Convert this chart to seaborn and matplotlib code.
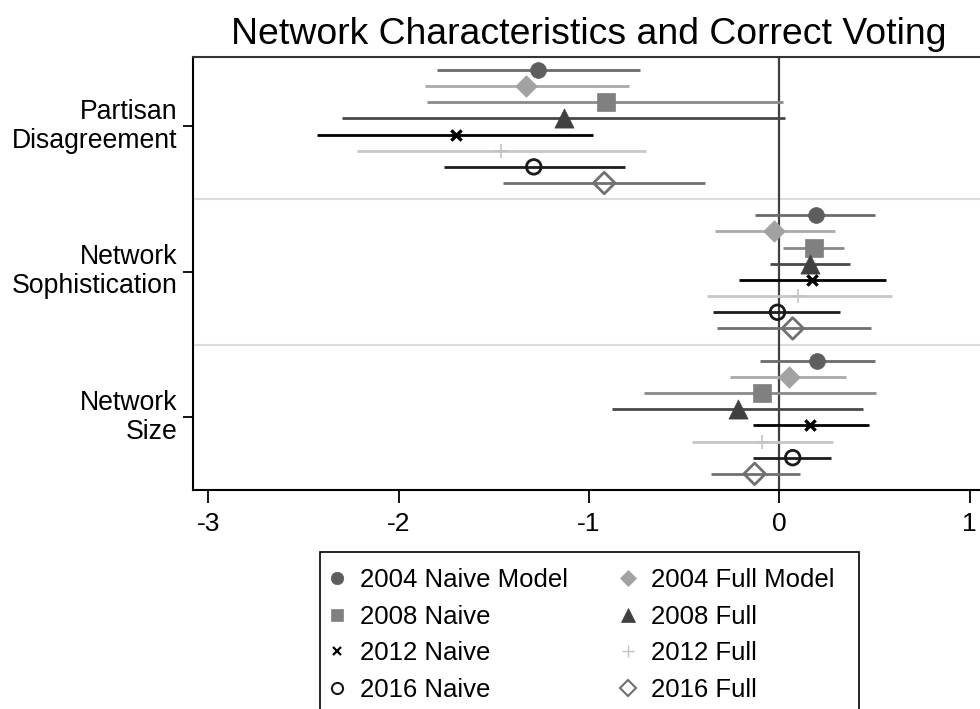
import numpy as np
import pandas as pd
import matplotlib
matplotlib.use("Agg")
import matplotlib.pyplot as plt
from matplotlib.lines import Line2D
from matplotlib.patches import Rectangle
import seaborn as sns

# ---- data -------------------------------------------------------------
variables = ["Partisan\nDisagreement", "Network\nSophistication", "Network\nSize"]
models = ["2004 Naive Model", "2004 Full Model", "2008 Naive", "2008 Full",
          "2012 Naive", "2012 Full", "2016 Naive", "2016 Full"]

partisan_est = [-1.27, -1.33, -0.91, -1.13, -1.70, -1.46, -1.29, -0.92]
partisan_lo = [-1.80, -1.86, -1.85, -2.30, -2.43, -2.22, -1.76, -1.45]
partisan_hi = [-0.73, -0.79, 0.02, 0.03, -0.98, -0.70, -0.81, -0.39]

soph_est = [0.19, -0.03, 0.18, 0.16, 0.17, 0.10, -0.01, 0.07]
soph_lo = [-0.13, -0.34, 0.02, -0.05, -0.21, -0.38, -0.35, -0.33]
soph_hi = [0.50, 0.29, 0.34, 0.37, 0.56, 0.59, 0.32, 0.48]

size_est = [0.20, 0.05, -0.09, -0.22, 0.16, -0.09, 0.07, -0.13]
size_lo = [-0.10, -0.26, -0.71, -0.88, -0.14, -0.46, -0.14, -0.36]
size_hi = [0.50, 0.35, 0.51, 0.44, 0.47, 0.28, 0.27, 0.11]

xticks = [-3, -2, -1, 0, 1]

# ---- styles -----------------------------------------------------------
styles = {
    "2004 Naive Model": dict(marker="o", face="#5e5e5e", edge="#5e5e5e", line="#6a6a6a", s=130, lw=0.5, lsize=9),
    "2004 Full Model": dict(marker="D", face="#a2a2a2", edge="#a2a2a2", line="#aaaaaa", s=120, lw=0.5, lsize=8.5),
    "2008 Naive": dict(marker="s", face="#808080", edge="#808080", line="#8a8a8a", s=150, lw=0.5, lsize=9),
    "2008 Full": dict(marker="^", face="#404040", edge="#404040", line="#484848", s=190, lw=0.5, lsize=10),
    "2012 Naive": dict(marker="x", face="#000000", edge="#000000", line="#000000", s=55, lw=2.4, lsize=6),
    "2012 Full": dict(marker="+", face="#c2c2c2", edge="#c2c2c2", line="#c6c6c6", s=110, lw=1.2, lsize=9),
    "2016 Naive": dict(marker="o", face="none", edge="#1a1a1a", line="#1e1e1e", s=110, lw=2.0, lsize=8),
    "2016 Full": dict(marker="D", face="none", edge="#707070", line="#707070", s=120, lw=2.0, lsize=8.5),
}

rows = []
for g, (est, lo, hi) in enumerate([(partisan_est, partisan_lo, partisan_hi),
                                     (soph_est, soph_lo, soph_hi),
                                     (size_est, size_lo, size_hi)]):
    for j, m in enumerate(models):
        rows.append(dict(variable=variables[g], model=m, pos=g * 9 + j,
                         est=est[j], lo=lo[j], hi=hi[j]))
df = pd.DataFrame(rows)

# ---- figure -----------------------------------------------------------
sns.set_style("white")
plt.rcParams["font.family"] = ["Liberation Sans", "DejaVu Sans"]
plt.rcParams["text.color"] = "black"
plt.rcParams["xtick.color"] = "black"
plt.rcParams["ytick.color"] = "black"
plt.rcParams["axes.labelcolor"] = "black"

W, H = 980, 709
fig = plt.figure(figsize=(W / 100, H / 100), dpi=100)
ax = fig.add_axes([193 / W, 1 - 490 / H, (985 - 193) / W, (490 - 57) / H])

# separators
for ysep in [8, 17]:
    ax.axhline(ysep, color="#dcdcdc", lw=1.5, zorder=0)
# zero line
ax.axvline(0, color="#404040", lw=1.6, zorder=1)

for m in models:
    st = styles[m]
    sub = df[df.model == m]
    ax.hlines(sub.pos, sub.lo, sub.hi, color=st["line"], lw=2.0, zorder=2)
    kw = dict(data=sub, x="est", y="pos", ax=ax, marker=st["marker"], s=st["s"],
              legend=False, zorder=3)
    if st["marker"] in ("x", "+"):
        sns.scatterplot(color=st["edge"], linewidth=st["lw"], **kw)
    elif st["face"] == "none":
        sns.scatterplot(facecolor="none", edgecolor=st["edge"], linewidth=st["lw"], **kw)
    else:
        sns.scatterplot(color=st["face"], edgecolor=st["edge"], linewidth=st["lw"], **kw)

ax.set_xlim(-3.08, 1.08)
ax.set_ylim(26.0, -0.8)
ax.set_xticks(xticks)
ax.set_xticklabels([str(t) for t in xticks], fontsize=19)
ax.set_yticks([3.5, 12.5, 21.5])
ax.set_yticklabels(variables, fontsize=19.2, linespacing=1.15)
ax.set_xlabel("")
ax.set_ylabel("")
ax.tick_params(axis="x", direction="out", length=9, width=1.3, colors="black", pad=7, bottom=True)
ax.tick_params(axis="y", direction="out", length=7, width=1.3, colors="black", pad=4, left=True)
for lab in ax.get_yticklabels():
    lab.set_va("center")
for sp in ax.spines.values():
    sp.set_color("black")
    sp.set_linewidth(1.5)
ax.spines["top"].set_color("#333333")

fig.text(589 / W, 1 - 34 / H, "Network Characteristics and Correct Voting",
         fontsize=26.9, ha="center", va="center", color="black")

# legend
handles = []
order = ["2004 Naive Model", "2004 Full Model", "2008 Naive", "2008 Full",
         "2012 Naive", "2012 Full", "2016 Naive", "2016 Full"]
for m in order:
    st = styles[m]
    if st["marker"] in ("x", "+"):
        h = Line2D([], [], ls="none", marker=st["marker"], color=st["edge"],
                   markersize=st["lsize"], markeredgewidth=1.6 if st["marker"] == "x" else 1.0)
    else:
        h = Line2D([], [], ls="none", marker=st["marker"], markerfacecolor=st["face"],
                   markeredgecolor=st["edge"], markersize=st["lsize"],
                   markeredgewidth=1.5 if st["face"] == "none" else 0.5)
    handles.append(h)
# column-major filling: col1 = naive, col2 = full
col_order = [0, 2, 4, 6, 1, 3, 5, 7]
leg = fig.legend([handles[i] for i in col_order], [order[i] for i in col_order],
                 loc="upper left", bbox_to_anchor=(327 / W, 1 - 568 / H),
                 ncol=2, fontsize=18.5, frameon=False,
                 borderaxespad=0, handlelength=0.8,
                 handletextpad=0.5, columnspacing=1.9, labelspacing=0.49,
                 borderpad=0)
for t in leg.get_texts():
    t.set_color("black")
# legend frame (open at the bottom edge of the figure)
fig.add_artist(Rectangle((320 / W, -0.05), (859 - 320) / W, (1 - 552 / H) + 0.05,
                         transform=fig.transFigure, fill=False, lw=1.2,
                         edgecolor="black", zorder=0))

fig.savefig("out.png", dpi=100)
